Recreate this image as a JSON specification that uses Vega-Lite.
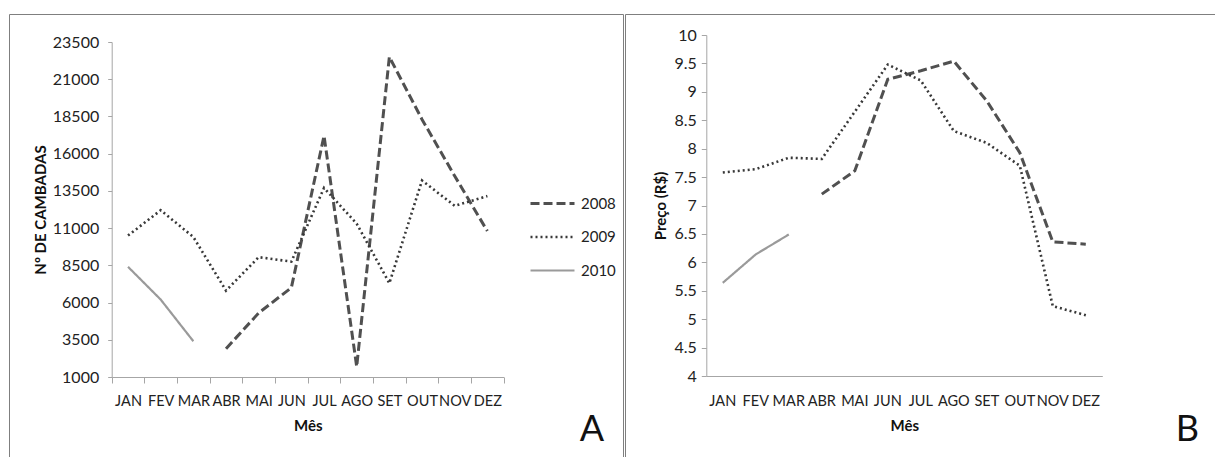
{
  "$schema": "https://vega.github.io/schema/vega-lite/v6.json",
  "padding": {"left": 8, "top": 13, "right": 0, "bottom": 0},
  "background": "white",
  "spacing": 0,
  "config": {
    "font": "Lato",
    "view": {"stroke": "#7f7f7f", "strokeWidth": 1},
    "axis": {"labelFont": "Lato", "labelFontSize": 14.5, "labelColor": "#222222", "titleFont": "Lato", "titleFontSize": 15, "titleFontWeight": "bold", "titleColor": "#111111", "domainColor": "#a6a6a6", "tickColor": "#a6a6a6", "grid": false, "labelOverlap": false, "labelBound": false, "labelFlush": false},
    "legend": {"labelFont": "Lato", "labelFontSize": 15, "labelColor": "#222222", "padding": 0}
  },
  "datasets": {
    "a": [
      {"ano": "2008", "mes": "ABR", "v": 2900},
      {"ano": "2008", "mes": "MAI", "v": 5300},
      {"ano": "2008", "mes": "JUN", "v": 7000},
      {"ano": "2008", "mes": "JUL", "v": 17200},
      {"ano": "2008", "mes": "AGO", "v": 1700},
      {"ano": "2008", "mes": "SET", "v": 22500},
      {"ano": "2008", "mes": "OUT", "v": 18300},
      {"ano": "2008", "mes": "NOV", "v": 14500},
      {"ano": "2008", "mes": "DEZ", "v": 10800},
      {"ano": "2009", "mes": "JAN", "v": 10500},
      {"ano": "2009", "mes": "FEV", "v": 12200},
      {"ano": "2009", "mes": "MAR", "v": 10400},
      {"ano": "2009", "mes": "ABR", "v": 6800},
      {"ano": "2009", "mes": "MAI", "v": 9050},
      {"ano": "2009", "mes": "JUN", "v": 8750},
      {"ano": "2009", "mes": "JUL", "v": 13700},
      {"ano": "2009", "mes": "AGO", "v": 11300},
      {"ano": "2009", "mes": "SET", "v": 7300},
      {"ano": "2009", "mes": "OUT", "v": 14200},
      {"ano": "2009", "mes": "NOV", "v": 12500},
      {"ano": "2009", "mes": "DEZ", "v": 13150},
      {"ano": "2010", "mes": "JAN", "v": 8400},
      {"ano": "2010", "mes": "FEV", "v": 6200},
      {"ano": "2010", "mes": "MAR", "v": 3400}
    ],
    "b": [
      {"ano": "2008", "mes": "ABR", "v": 7.2},
      {"ano": "2008", "mes": "MAI", "v": 7.61},
      {"ano": "2008", "mes": "JUN", "v": 9.22},
      {"ano": "2008", "mes": "JUL", "v": 9.37},
      {"ano": "2008", "mes": "AGO", "v": 9.54},
      {"ano": "2008", "mes": "SET", "v": 8.84},
      {"ano": "2008", "mes": "OUT", "v": 7.93},
      {"ano": "2008", "mes": "NOV", "v": 6.36},
      {"ano": "2008", "mes": "DEZ", "v": 6.32},
      {"ano": "2009", "mes": "JAN", "v": 7.58},
      {"ano": "2009", "mes": "FEV", "v": 7.64},
      {"ano": "2009", "mes": "MAR", "v": 7.84},
      {"ano": "2009", "mes": "ABR", "v": 7.82},
      {"ano": "2009", "mes": "MAI", "v": 8.65},
      {"ano": "2009", "mes": "JUN", "v": 9.48},
      {"ano": "2009", "mes": "JUL", "v": 9.2},
      {"ano": "2009", "mes": "AGO", "v": 8.31},
      {"ano": "2009", "mes": "SET", "v": 8.1},
      {"ano": "2009", "mes": "OUT", "v": 7.7},
      {"ano": "2009", "mes": "NOV", "v": 5.23},
      {"ano": "2009", "mes": "DEZ", "v": 5.07},
      {"ano": "2010", "mes": "JAN", "v": 5.64},
      {"ano": "2010", "mes": "FEV", "v": 6.14},
      {"ano": "2010", "mes": "MAR", "v": 6.49}
    ]
  },
  "hconcat": [
    {
      "width": 614,
      "height": 444,
      "data": {"name": "a"},
      "title": {"text": "A", "orient": "bottom", "anchor": "end", "frame": "group", "fontSize": 36, "fontWeight": "normal", "font": "Lato", "color": "#111111", "baseline": "alphabetic", "offset": -17, "dx": -19},
      "mark": {"type": "line", "strokeCap": "butt"},
      "encoding": {
        "x": {"field": "mes", "type": "ordinal", "bandPosition": 0.5,
          "sort": ["JAN","FEV","MAR","ABR","MAI","JUN","JUL","AGO","SET","OUT","NOV","DEZ"],
          "scale": {"type": "band", "range": [102.7, 494.7], "paddingInner": 0, "paddingOuter": 0,
            "domain": ["JAN","FEV","MAR","ABR","MAI","JUN","JUL","AGO","SET","OUT","NOV","DEZ"]},
          "axis": {"orient": "bottom", "offset": -81, "tickBand": "extent", "tickSize": 6, "labelPadding": 11, "labelAngle": 0, "title": "Mês", "titlePadding": 11}},
        "y": {"field": "v", "type": "quantitative",
          "scale": {"domain": [1000, 23500], "range": [363, 28], "nice": false, "zero": false},
          "axis": {"orient": "left", "offset": -102.7, "values": [1000,3500,6000,8500,11000,13500,16000,18500,21000,23500], "format": "d", "tickSize": 4, "labelPadding": 9, "labelFontSize": 16, "title": "Nº DE CAMBADAS", "titleFontSize": 15, "titlePadding": 4}},
        "color": {"field": "ano", "type": "nominal",
          "scale": {"domain": ["2008","2009","2010"], "range": ["#505050", "#383838", "#9a9a9a"]},
          "legend": {"orient": "none", "legendX": 520, "legendY": 166, "title": null, "symbolType": "stroke", "symbolSize": 1936, "symbolStrokeWidth": 3, "labelOffset": 5, "rowPadding": 1.5}},
        "strokeDash": {"field": "ano", "type": "nominal",
          "scale": {"domain": ["2008","2009","2010"], "range": [[9,4],[2,3],[1,0]]},
          "legend": {"orient": "none", "legendX": 520, "legendY": 166, "title": null, "symbolType": "stroke", "symbolSize": 1936, "symbolStrokeWidth": 3, "labelOffset": 5, "rowPadding": 1.5}},
        "strokeWidth": {"field": "ano", "type": "nominal",
          "scale": {"domain": ["2008","2009","2010"], "range": [3, 2.2, 2.5]}, "legend": null}
      }
    },
    {
      "width": 593,
      "height": 444,
      "data": {"name": "b"},
      "title": {"text": "B", "orient": "bottom", "anchor": "end", "frame": "group", "fontSize": 36, "fontWeight": "normal", "font": "Lato", "color": "#111111", "baseline": "alphabetic", "offset": -17, "dx": -19},
      "mark": {"type": "line", "strokeCap": "butt"},
      "encoding": {
        "x": {"field": "mes", "type": "ordinal", "bandPosition": 0.5,
          "sort": ["JAN","FEV","MAR","ABR","MAI","JUN","JUL","AGO","SET","OUT","NOV","DEZ"],
          "scale": {"type": "band", "range": [81.3, 477.3], "paddingInner": 0, "paddingOuter": 0,
            "domain": ["JAN","FEV","MAR","ABR","MAI","JUN","JUL","AGO","SET","OUT","NOV","DEZ"]},
          "axis": {"orient": "bottom", "offset": -82, "ticks": false, "tickSize": 0, "labelPadding": 18, "labelAngle": 0, "title": "Mês", "titlePadding": 11}},
        "y": {"field": "v", "type": "quantitative",
          "scale": {"domain": [4, 10], "range": [362, 21], "nice": false, "zero": false},
          "axis": {"orient": "left", "offset": -81.3, "values": [4,4.5,5,5.5,6,6.5,7,7.5,8,8.5,9,9.5,10], "format": ".1~f", "tickSize": 5, "labelPadding": 5, "labelFontSize": 16, "title": "Preço (R$)", "titleFontSize": 15, "titlePadding": 5}},
        "color": {"field": "ano", "type": "nominal",
          "scale": {"domain": ["2008","2009","2010"], "range": ["#505050", "#383838", "#9a9a9a"]},
          "legend": {"orient": "none", "legendX": 503, "legendY": 166, "title": null, "symbolType": "stroke", "symbolSize": 1936, "symbolStrokeWidth": 3, "labelOffset": 5, "rowPadding": 1.5}},
        "strokeDash": {"field": "ano", "type": "nominal",
          "scale": {"domain": ["2008","2009","2010"], "range": [[9,4],[2,3],[1,0]]},
          "legend": {"orient": "none", "legendX": 503, "legendY": 166, "title": null, "symbolType": "stroke", "symbolSize": 1936, "symbolStrokeWidth": 3, "labelOffset": 5, "rowPadding": 1.5}},
        "strokeWidth": {"field": "ano", "type": "nominal",
          "scale": {"domain": ["2008","2009","2010"], "range": [3, 2.2, 2.5]}, "legend": null}
      }
    }
  ]
}
